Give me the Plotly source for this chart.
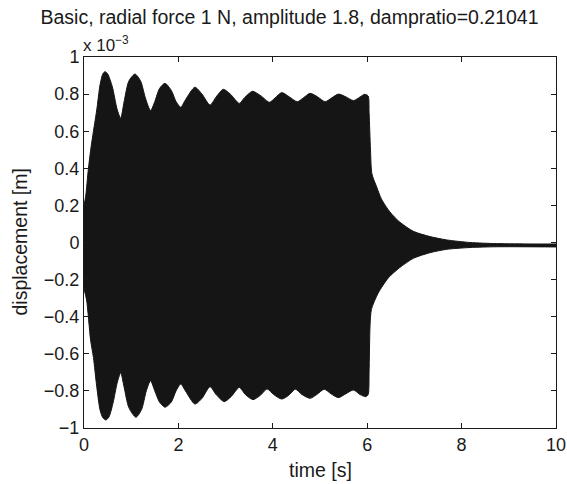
import plotly.graph_objects as go

# Envelope of the dense oscillation (displacement in units of 1e-3 m)
t_upper = [0.0, 0.036, 0.09, 0.142, 0.2, 0.27, 0.34, 0.40, 0.445, 0.50, 0.60, 0.70, 0.777,
           0.85, 0.95, 1.08, 1.20, 1.30, 1.41, 1.50, 1.60, 1.716, 1.85, 1.95, 2.05, 2.15,
           2.35, 2.50, 2.67, 2.80, 2.95, 3.10, 3.29, 3.40, 3.57, 3.75, 3.93, 4.05, 4.19,
           4.35, 4.52, 4.65, 4.79, 4.95, 5.11, 5.25, 5.39, 5.55, 5.71, 5.85, 5.95, 6.02,
           6.04, 6.07, 6.10, 6.20, 6.30, 6.48, 6.69, 6.98, 7.33, 7.68, 8.18, 8.74, 9.5, 10.0]
y_upper = [0.20, 0.25, 0.39, 0.50, 0.60, 0.714, 0.85, 0.91, 0.921, 0.91, 0.84, 0.72, 0.670,
           0.76, 0.87, 0.908, 0.87, 0.78, 0.711, 0.76, 0.83, 0.858, 0.82, 0.76, 0.729, 0.77,
           0.837, 0.80, 0.741, 0.785, 0.826, 0.80, 0.750, 0.78, 0.815, 0.79, 0.756, 0.78, 0.808,
           0.785, 0.759, 0.78, 0.804, 0.785, 0.759, 0.78, 0.800, 0.785, 0.765, 0.785, 0.799, 0.79,
           0.70, 0.50, 0.37, 0.30, 0.235, 0.165, 0.11, 0.06, 0.032, 0.014, 0.0, -0.006, -0.008, -0.008]

t_lower = [0.0, 0.055, 0.14, 0.2, 0.27, 0.34, 0.40, 0.466, 0.53, 0.62, 0.70, 0.777, 0.85,
           0.95, 1.10, 1.22, 1.32, 1.41, 1.50, 1.60, 1.716, 1.85, 1.95, 2.05, 2.15, 2.35,
           2.50, 2.67, 2.80, 2.97, 3.12, 3.29, 3.42, 3.58, 3.73, 3.88, 4.02, 4.19, 4.33,
           4.48, 4.62, 4.79, 4.93, 5.09, 5.23, 5.39, 5.55, 5.71, 5.85, 5.97, 6.02, 6.04,
           6.06, 6.09, 6.23, 6.45, 6.69, 6.98, 7.33, 7.68, 8.18, 8.74, 10.0]
y_lower = [-0.25, -0.31, -0.526, -0.62, -0.777, -0.903, -0.945, -0.957, -0.94, -0.86, -0.76,
           -0.702, -0.78, -0.89, -0.942, -0.90, -0.80, -0.745, -0.80, -0.86, -0.888, -0.86,
           -0.80, -0.763, -0.80, -0.871, -0.84, -0.777, -0.82, -0.858, -0.83, -0.781, -0.82,
           -0.847, -0.825, -0.790, -0.82, -0.844, -0.825, -0.791, -0.82, -0.840, -0.82, -0.791,
           -0.815, -0.836, -0.815, -0.795, -0.82, -0.831, -0.82, -0.70, -0.45, -0.36, -0.274,
           -0.19, -0.135, -0.085, -0.055, -0.037, -0.027, -0.023, -0.024]

x_ticks = [0, 2, 4, 6, 8, 10]
y_ticks = [-1, -0.8, -0.6, -0.4, -0.2, 0, 0.2, 0.4, 0.6, 0.8, 1]
y_ticktext = ["\u22121", "\u22120.8", "\u22120.6", "\u22120.4", "\u22120.2", "0",
              "0.2", "0.4", "0.6", "0.8", "1"]

title_text = "Basic, radial force 1 N, amplitude 1.8, dampratio=0.21041"
fill_col = "#151515"
font_family = "Liberation Sans, Arial, sans-serif"

fig = go.Figure()
fig.add_trace(go.Scatter(
    x=t_lower, y=y_lower, mode="lines",
    line=dict(color=fill_col, width=1, shape="spline", smoothing=0.7),
    hoverinfo="skip", showlegend=False,
))
fig.add_trace(go.Scatter(
    x=t_upper, y=y_upper, mode="lines", fill="tonexty", fillcolor=fill_col,
    line=dict(color=fill_col, width=1, shape="spline", smoothing=0.7),
    hoverinfo="skip", showlegend=False,
))

W, H = 567, 484
L, R, T, B = 84, 11, 57, 56
pw, ph = W - L - R, H - T - B

fig.update_layout(
    width=W, height=H,
    margin=dict(l=L, r=R, t=T, b=B, autoexpand=False),
    paper_bgcolor="white", plot_bgcolor="white",
    font=dict(family=font_family, color="#1a1a1a", size=18),
    title=dict(text=title_text, x=289.5 / W, y=1 - 17 / H,
               xref="container", yref="container",
               xanchor="center", yanchor="middle", automargin=False,
               font=dict(size=19.5, family=font_family, color="#1a1a1a")),
    showlegend=False,
)
fig.update_xaxes(
    range=[0, 10], tickvals=x_ticks, ticktext=[str(v) for v in x_ticks],
    showgrid=False, zeroline=False, automargin=False,
    showline=True, linecolor="#1a1a1a", linewidth=1, mirror="allticks",
    ticks="inside", ticklen=5, tickcolor="#1a1a1a",
    tickfont=dict(size=18),
)
fig.update_yaxes(
    range=[-1, 1], tickvals=y_ticks, ticktext=y_ticktext,
    showgrid=False, zeroline=False, automargin=False,
    showline=True, linecolor="#1a1a1a", linewidth=1, mirror="allticks",
    ticks="inside", ticklen=5, tickcolor="#1a1a1a",
    tickfont=dict(size=18),
)

fig.add_annotation(text="time [s]", xref="paper", yref="paper",
                   x=0.5, y=-(470 - (T + ph)) / ph, xanchor="center", yanchor="middle",
                   showarrow=False, font=dict(size=19.5))
fig.add_annotation(text="displacement [m]", xref="paper", yref="paper",
                   x=(19 - L) / pw, y=0.5, xanchor="center", yanchor="middle",
                   textangle=-90, showarrow=False, font=dict(size=19.5))
fig.add_annotation(text="x 10<sup>\u22123</sup>", xref="paper", yref="paper",
                   x=(81 - L) / pw, y=1 + (T - 44) / ph, xanchor="left", yanchor="middle",
                   showarrow=False, font=dict(size=17))

fig.write_html("out.html", config={"displayModeBar": False, "staticPlot": True},
               post_script="document.body.style.margin='0';document.body.style.overflow='hidden';")
